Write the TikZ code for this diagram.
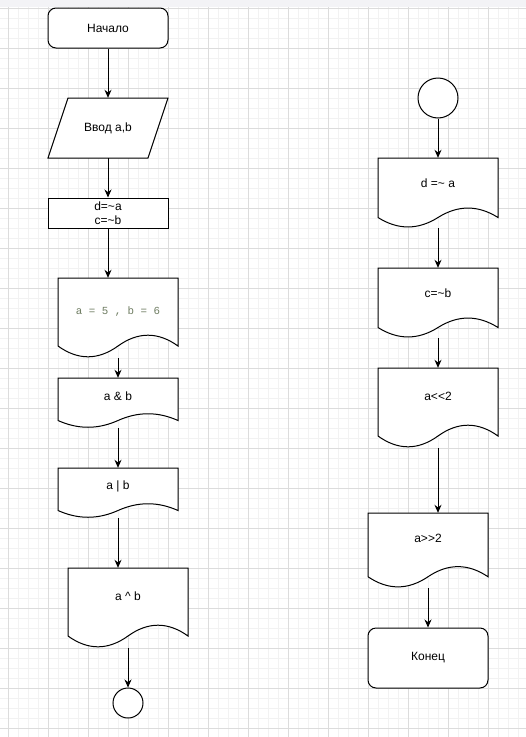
\documentclass[tikz,border=0pt]{standalone}
\usepackage{fontspec}
\setmainfont{Liberation Sans}
\setmonofont{Liberation Mono}
\usetikzlibrary{arrows.meta}

\definecolor{gridmajor}{HTML}{DCDCDC}
\definecolor{gridminor}{HTML}{F2F2F2}
\definecolor{topband}{HTML}{F3F3F6}
\definecolor{codetext}{HTML}{6F7D62}

\tikzset{
  shapeline/.style={draw=black, line width=1pt, fill=white},
  frame/.style={draw=none, inner sep=0pt, rectangle},
  lbl/.style={inner sep=0pt, font=\fontsize{12}{14}\selectfont, align=center},
  flow/.style={draw=black, line width=1pt, -{Stealth[length=8pt,width=7pt]}},
  gminor/.style={draw=gridminor, line width=0.8pt},
  gmajor/.style={draw=gridmajor, line width=0.8pt},
}

% document symbol: #1 name, #2 left x, #3 top y, #4 width, #5 height, #6 text y, #7 text
\newcommand{\docnode}[7]{%
  \draw[shapeline] (#2,#3) -- ({#2+#4},#3) -- ({#2+#4},{#3+0.85*#5})
    .. controls ({#2+5*#4/6},{#3+0.67*#5}) and ({#2+4*#4/6},{#3+0.67*#5}) .. ({#2+#4/2},{#3+0.85*#5})
    .. controls ({#2+2*#4/6},{#3+1.03*#5}) and ({#2+#4/6},{#3+1.03*#5}) .. (#2,{#3+0.85*#5}) -- cycle;
  \node[frame, minimum width=#4pt, minimum height=#5pt] (#1) at ({#2+#4/2},{#3+#5/2}) {};
  \node[lbl] (#1-t) at ({#2+#4/2},#6) {#7};
}

\begin{document}
\begin{tikzpicture}[x=1pt, y=-1pt]
  \useasboundingbox (0,0) rectangle (526,737);
  \fill[white] (0,0) rectangle (526,737);

  % background grid
  \begin{scope}
    \clip (0,0) rectangle (526,737);
    \foreach \g in {8,18,...,528} \draw[gminor] (\g,0) -- (\g,737);
    \foreach \g in {8,18,...,738} \draw[gminor] (0,\g) -- (526,\g);
    \foreach \g in {8,48,...,528} \draw[gmajor] (\g,0) -- (\g,737);
    \foreach \g in {8,48,...,728} \draw[gmajor] (0,\g) -- (526,\g);
    \fill[topband] (0,0) rectangle (526,7);
  \end{scope}

  % ---- left column ----
  \node[shapeline, rounded corners=8pt, minimum width=120pt, minimum height=40pt, lbl] (start) at (108,28) {Начало};

  \node[frame, minimum width=120pt, minimum height=60pt] (inp) at (108,128) {};
  \draw[shapeline] (68,98) -- (168,98) -- (148,158) -- (48,158) -- cycle;
  \node[lbl] (inp-t) at (108,128) {Ввод a,b};

  \node[shapeline, minimum width=120pt, minimum height=30pt, inner sep=0pt] (calc) at (108,213) {};
  \node[lbl] (calc-t) at (108,213) {d=\textasciitilde a\\c=\textasciitilde b};

  \docnode{doca}{58}{278}{120}{80}{312}{\color{codetext}\ttfamily\fontsize{10.8}{13}\selectfont a = 5 , b = 6}
  \docnode{docb}{58}{378}{120}{50}{396}{a \& b}
  \docnode{docc}{58}{468}{120}{50}{486}{a | b}
  \docnode{docd}{68}{568}{120}{80}{596}{a \textasciicircum{} b}

  \node[shapeline, circle, minimum size=30pt, inner sep=0pt] (outc) at (128,703) {};

  \draw[flow] (start.south) -- (inp.north);
  \draw[flow] (inp.south) -- (calc.north);
  \draw[flow] (calc.south) -- (calc.south |- doca.north);
  \draw[flow] (doca.south) -- (docb.north);
  \draw[flow] (docb.south) -- (docc.north);
  \draw[flow] (docc.south) -- (docc.south |- docd.north);
  \draw[flow] (docd.south) -- (outc.north);

  % ---- right column ----
  \node[shapeline, circle, minimum size=40pt, inner sep=0pt] (inc) at (438,98) {};

  \docnode{rda}{378}{158}{120}{70}{183}{d =\textasciitilde{} a}
  \docnode{rcb}{378}{268}{120}{70}{293}{c=\textasciitilde b}
  \docnode{rsl}{378}{368}{120}{80}{396}{a<{}<2}
  \docnode{rsr}{368}{513}{120}{75}{538}{a>{}>2}

  \node[shapeline, rounded corners=8pt, minimum width=120pt, minimum height=60pt, lbl] (stop) at (428,658) {Конец};

  \draw[flow] (inc.south) -- (rda.north);
  \draw[flow] (rda.south) -- (rcb.north);
  \draw[flow] (rcb.south) -- (rsl.north);
  \draw[flow] (rsl.south) -- (rsl.south |- rsr.north);
  \draw[flow] (rsr.south) -- (stop.north);
\end{tikzpicture}
\end{document}
